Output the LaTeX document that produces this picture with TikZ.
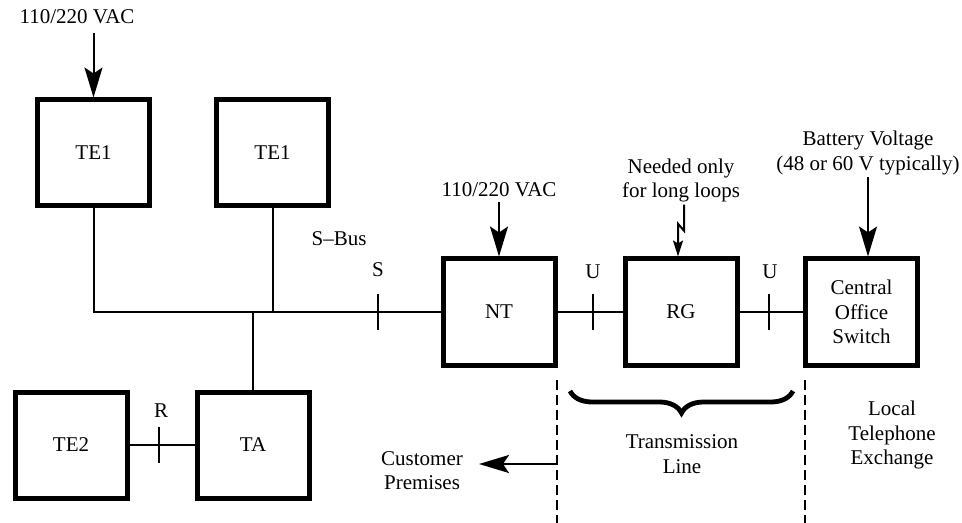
\documentclass[tikz,border=0pt]{standalone}
\usepackage{fontspec}
\setmainfont{Liberation Serif}
\usepackage{tikz}
\usetikzlibrary{arrows.meta,decorations.pathreplacing}

\begin{document}
\begin{tikzpicture}[x=0.5pt, y=-0.5pt,
  >={Stealth[length=15pt,width=9pt,inset=3pt]},
  font=\rmfamily\fontsize{10.5}{12.3}\selectfont,
  box/.style={rectangle, draw, line width=2.5pt, minimum width=56pt,
              minimum height=53pt, align=center, inner sep=2pt},
  txt/.style={align=center, inner sep=1pt},
  wire/.style={line width=1pt},
  pwr/.style={line width=1pt, ->},
  divider/.style={line width=1pt, dash pattern=on 5pt off 2.5pt},
  brc/.style={line width=2.4pt, decorate,
              decoration={brace, mirror, amplitude=11pt}}]
  \useasboundingbox (0,0) rectangle (962,523);
  % equipment
  \node[box] (te1a) at (93.5,153) {TE1};
  \node[box] (te1b) at (272.5,153) {TE1};
  \node[box] (nt) at (499,312) {NT};
  \node[box] (rg) at (681,312) {RG};
  \node[box] (co) at (861.5,312) {Central\\Office\\Switch};
  \node[box] (te2) at (71,445) {TE2};
  \node[box] (ta) at (253,445) {TA};
  % S bus
  \draw[wire] (te1a.south) |- (nt.west);
  \draw[wire] (te1b.south) -- (te1b.south |- nt.west);
  \draw[wire] (ta.north) -- (ta.north |- nt.west);
  \draw[wire] (nt.east) -- (rg.west);
  \draw[wire] (rg.east) -- (co.west);
  \draw[wire] (te2.east) -- (ta.west);
  % reference points
  \coordinate (sT) at (378,312);
  \coordinate (rT) at (159,445);
  \coordinate (u1T) at (593,312);
  \coordinate (u2T) at (769,312);
  \foreach \t in {sT,rT,u1T,u2T}
    \draw[wire] ([yshift=9pt]\t) -- ([yshift=-9pt]\t);
  \node[txt] (sLbl) at (378,270) {S};
  \node[txt] (rLbl) at (161,411) {R};
  \node[txt] (u1Lbl) at (593,272) {U};
  \node[txt] (u2Lbl) at (770,272) {U};
  \node[txt] (sbus) at (339,239) {S–Bus};
  % power feeds
  \node[txt] (ac1) at (77,17) {110/220 VAC};
  \draw[pwr] ([yshift=-3pt]te1a.north |- ac1.south) -- (te1a.north);
  \node[txt] (ac2) at (499,190) {110/220 VAC};
  \draw[pwr] ([yshift=-1pt]ac2.south) -- (nt.north);
  \node[txt] (need) at (681,180.5) {Needed only\\for long loops};
  \draw[wire, -{Stealth[length=8pt,width=5pt,inset=1.5pt]}]
    ([xshift=1.5pt]need.south) -- ++(0,26) -- ++(-6,-7) -- ([xshift=-1.5pt]rg.north);
  \node[txt] (batt) at (868,153) {Battery Voltage\\(48 or 60 V typically)};
  \draw[pwr] (batt.south) -- (batt.south |- co.north);
  % boundaries
  \coordinate (cpTop) at (557,380);
  \coordinate (cpBot) at (557,523);
  \coordinate (leTop) at (805,380);
  \coordinate (leBot) at (805,523);
  \draw[divider] (cpTop) -- (cpBot);
  \draw[divider] (leTop) -- (leBot);
  \coordinate (brL) at (570,391);
  \coordinate (brR) at (793,391);
  \draw[brc] (brL) -- (brR);
  \node[txt] (trans) at (682,454) {Transmission\\Line};
  \node[txt] (local) at (892,435) {Local\\Telephone\\Exchange};
  \node[txt] (cust) at (422,470.5) {Customer\\Premises};
  \coordinate (cpArr) at (557,464);
  \coordinate (cpTip) at (479,464);
  \draw[pwr] (cpArr) -- (cpTip);
\end{tikzpicture}
\end{document}
